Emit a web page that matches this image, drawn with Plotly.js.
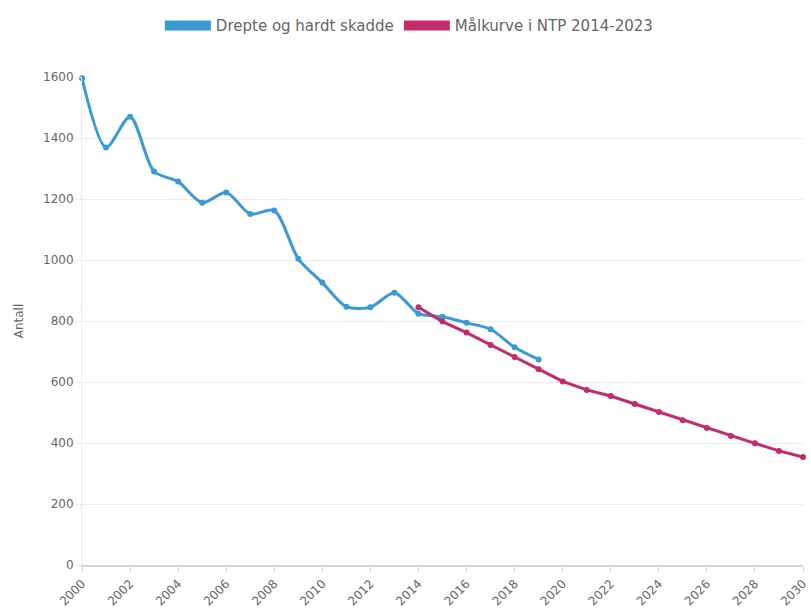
<!DOCTYPE html>
<html>
<head>
<meta charset="utf-8">
<script src="https://cdn.plot.ly/plotly-3.0.1.min.js"></script>
<style>html,body{margin:0;padding:0;background:#fff;}#chart{width:811px;height:609px;}</style>
</head>
<body>
<div id="chart"></div>
<script>
var yearsActual = [2000,2001,2002,2003,2004,2005,2006,2007,2008,2009,2010,2011,2012,2013,2014,2015,2016,2017,2018,2019];
var killedInjured = [1596,1369,1470,1290,1257,1188,1221,1151,1162,1004,926,847,845,893,824,814,794,773,714,674];
var yearsTarget = [2014,2015,2016,2017,2018,2019,2020,2021,2022,2023,2024,2025,2026,2027,2028,2029,2030];
var targetCurve = [845,798,762,721,682,642,602,574,554,528,502,475,449,423,399,374,354];
var tickYears = [2000,2002,2004,2006,2008,2010,2012,2014,2016,2018,2020,2022,2024,2026,2028,2030];
var seriesNames = ['Drepte og hardt skadde', 'Målkurve i NTP 2014-2023'];
var yTicks = [0,200,400,600,800,1000,1200,1400,1600];

var blue = '#3a9ad6';
var red = '#c52a6b';

var traces = [
  {x: yearsActual, y: killedInjured, type: 'scatter', mode: 'lines+markers', name: seriesNames[0],
   line: {color: blue, width: 3, shape: 'spline', smoothing: 0.8}, marker: {color: blue, size: 6},
   showlegend: false, cliponaxis: false},
  {x: yearsTarget, y: targetCurve, type: 'scatter', mode: 'lines+markers', name: seriesNames[1],
   line: {color: red, width: 3}, marker: {color: red, size: 6},
   showlegend: false, cliponaxis: false},
  {x: [null], y: [null], type: 'scatter', mode: 'lines', name: seriesNames[0], line: {color: blue, width: 14}, showlegend: true},
  {x: [null], y: [null], type: 'scatter', mode: 'lines', name: seriesNames[1], line: {color: red, width: 14}, showlegend: true}
];

var layout = {
  width: 811, height: 609,
  margin: {l: 82, r: 8, t: 77, b: 44},
  paper_bgcolor: '#fff', plot_bgcolor: '#fff',
  font: {family: 'DejaVu Sans, Verdana, sans-serif', size: 12, color: '#666'},
  showlegend: true,
  legend: {orientation: 'h', x: 0.108, xanchor: 'left', y: 0.985, yref: 'container', yanchor: 'top',
           font: {size: 15, color: '#666'}, itemwidth: 46, itemclick: false},
  xaxis: {range: [2000, 2030], tickvals: tickYears, ticktext: tickYears.map(String), tickangle: -45,
          showgrid: false, zeroline: false, showline: true, linecolor: '#ccd6eb', linewidth: 2,
          ticklabeloverflow: 'allow',
          ticks: 'outside', ticklen: 5, tickcolor: '#ccd6eb', tickfont: {size: 12, color: '#666'}},
  yaxis: {range: [0, 1600], tickvals: yTicks, showgrid: true, gridcolor: '#ececec', gridwidth: 1,
          zeroline: false, showline: true, linecolor: '#ececec', ticks: 'outside', ticklen: 5, tickcolor: '#ececec',
          tickfont: {size: 12, color: '#666'},
          title: {text: 'Antall', font: {size: 12, color: '#666'}, standoff: 16}}
};

Plotly.newPlot('chart', traces, layout, {displayModeBar: false, staticPlot: true});
</script>
</body>
</html>
